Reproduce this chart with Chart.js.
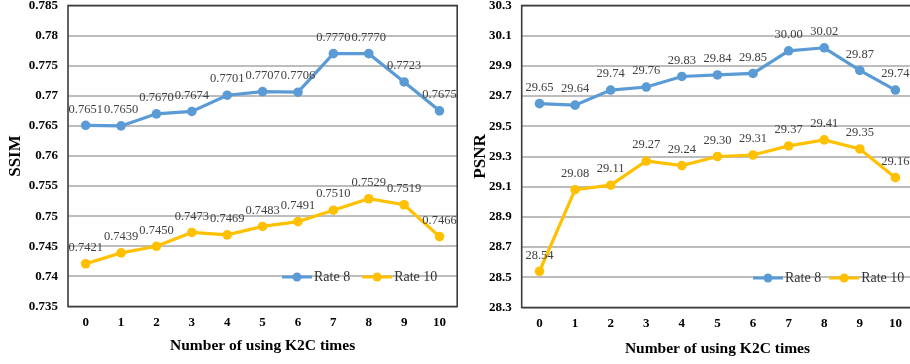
<!DOCTYPE html>
<html><head><meta charset="utf-8">
<script src="https://cdn.jsdelivr.net/npm/chart.js@4/dist/chart.umd.min.js"></script>
<style>
html,body{margin:0;padding:0;width:910px;height:364px;overflow:hidden;background:#fff;}
#c1{position:absolute;left:0;top:0;}
#c2{position:absolute;left:462px;top:0;}
</style></head><body>
<canvas id="c1" width="462" height="364"></canvas>
<canvas id="c2" width="456" height="364"></canvas>
<script>
const categories = ['0','1','2','3','4','5','6','7','8','9','10'];
const seriesNames = ['Rate 8','Rate 10'];
const ssimRate8  = [0.7651,0.7650,0.7670,0.7674,0.7701,0.7707,0.7706,0.7770,0.7770,0.7723,0.7675];
const ssimRate10 = [0.7421,0.7439,0.7450,0.7473,0.7469,0.7483,0.7491,0.7510,0.7529,0.7519,0.7466];
const psnrRate8  = [29.65,29.64,29.74,29.76,29.83,29.84,29.85,30.00,30.02,29.87,29.74];
const psnrRate10 = [28.54,29.08,29.11,29.27,29.24,29.30,29.31,29.37,29.41,29.35,29.16];
const ssimTickValues = [0.735,0.74,0.745,0.75,0.755,0.76,0.765,0.77,0.775,0.78,0.785];
const ssimTickLabels = ['0.735','0.74','0.745','0.75','0.755','0.76','0.765','0.77','0.775','0.78','0.785'];
const psnrTickValues = [28.3,28.5,28.7,28.9,29.1,29.3,29.5,29.7,29.9,30.1,30.3];
const psnrTickLabels = ['28.3','28.5','28.7','28.9','29.1','29.3','29.5','29.7','29.9','30.1','30.3'];

const COLORS = ['#5B9BD5','#FFC000'];
const SERIF = '"Liberation Serif","Times New Roman",serif';
const BORDER = '#3c3c3c';

const valueLabels = {
  id:'valueLabels',
  afterDatasetsDraw(chart, args, opts){
    const ctx = chart.ctx; ctx.save();
    ctx.font = '12.5px ' + SERIF; ctx.fillStyle = '#404040';
    ctx.textAlign = 'center'; ctx.textBaseline = 'middle';
    chart.data.datasets.forEach((ds,i)=>{
      const meta = chart.getDatasetMeta(i);
      meta.data.forEach((pt,j)=>{
        ctx.fillText(ds.data[j].toFixed(opts.decimals), pt.x, pt.y - 16);
      });
    });
    ctx.restore();
  }
};
const frame = {
  id:'frame',
  beforeDatasetsDraw(chart){
    const {ctx, chartArea:a} = chart; ctx.save();
    ctx.strokeStyle = BORDER; ctx.lineWidth = 1.6;
    ctx.strokeRect(a.left, a.top, a.right - a.left, a.bottom - a.top);
    ctx.restore();
  }
};
const inLegend = {
  id:'inLegend',
  afterDraw(chart, args, opts){
    const {ctx, chartArea:a} = chart; ctx.save();
    ctx.font = '14px ' + SERIF; ctx.textBaseline = 'middle'; ctx.textAlign = 'left';
    let x = a.left + opts.x; const y = a.bottom - 29.5;
    chart.data.datasets.forEach((ds,i)=>{
      ctx.strokeStyle = ds.borderColor; ctx.lineWidth = 3;
      ctx.beginPath(); ctx.moveTo(x, y); ctx.lineTo(x + 30, y); ctx.stroke();
      ctx.fillStyle = ds.borderColor;
      ctx.beginPath(); ctx.arc(x + 15, y, 4.5, 0, Math.PI*2); ctx.fill();
      ctx.fillStyle = '#333333';
      ctx.fillText(ds.label, x + 32, y + 0.5);
      x += 32 + ctx.measureText(ds.label).width + opts.gap;
    });
    ctx.restore();
  }
};

function makeChart(id, yTitle, d8, d10, tickVals, tickLbls, decimals, cfg){
  const ds = (label, data, color) => ({
    label, data, borderColor: color, backgroundColor: color,
    borderWidth: 3.2, pointRadius: 4.8, pointBackgroundColor: color,
    pointBorderWidth: 0, tension: 0
  });
  return new Chart(document.getElementById(id), {
    type:'line',
    data:{ labels: categories, datasets:[ds(seriesNames[0], d8, COLORS[0]), ds(seriesNames[1], d10, COLORS[1])] },
    plugins:[frame, valueLabels, inLegend],
    options:{
      responsive:false, animation:false, devicePixelRatio:1,
      layout:{ padding:{ top:5.5, right:cfg.padRight, left:0, bottom:0 } },
      plugins:{ legend:{display:false}, tooltip:{enabled:false},
        valueLabels:{decimals}, inLegend:{x:cfg.legendX, gap:cfg.legendGap} },
      scales:{
        x:{
          offset:true,
          grid:{display:false, drawTicks:false},
          border:{display:false},
          ticks:{ padding:8, color:'#000', font:{family:SERIF, size:13, weight:'bold'} },
          title:{ display:true, text:'Number of using K2C times', color:'#000',
                  font:{family:SERIF, size:15.5, weight:'bold'}, padding:{top:0,bottom:cfg.xTitlePad} },
          afterFit(s){ s.height = cfg.xHeight; s.paddingLeft = 0; s.paddingRight = 0; }
        },
        y:{
          min: tickVals[0], max: tickVals[tickVals.length-1],
          afterBuildTicks(s){ s.ticks = tickVals.map(v => ({value:v})); },
          grid:{ color:'#BDBDBD', lineWidth:2, drawTicks:false },
          border:{display:false},
          ticks:{ padding:10, color:'#000', font:{family:SERIF, size:13, weight:'bold'},
                  callback:(v,i)=>tickLbls[i] },
          title:{ display:true, text:yTitle, color:'#000',
                  font:{family:SERIF, size:17, weight:'bold'}, padding:{top:cfg.yTitlePad, bottom:0} },
          afterFit(s){ s.width = cfg.yWidth; s.paddingTop = 0; s.paddingBottom = 0; }
        }
      }
    }
  });
}

makeChart('c1','SSIM', ssimRate8, ssimRate10, ssimTickValues, ssimTickLabels, 4,
  {padRight:3.5, yWidth:68, xHeight:57.5, legendX:214, legendGap:12, xTitlePad:9, yTitlePad:5});
makeChart('c2','PSNR', psnrRate8, psnrRate10, psnrTickValues, psnrTickLabels, 2,
  {padRight:3, yWidth:59.7, xHeight:56.5, legendX:231.3, legendGap:8, xTitlePad:6, yTitlePad:8});
</script>
</body></html>
